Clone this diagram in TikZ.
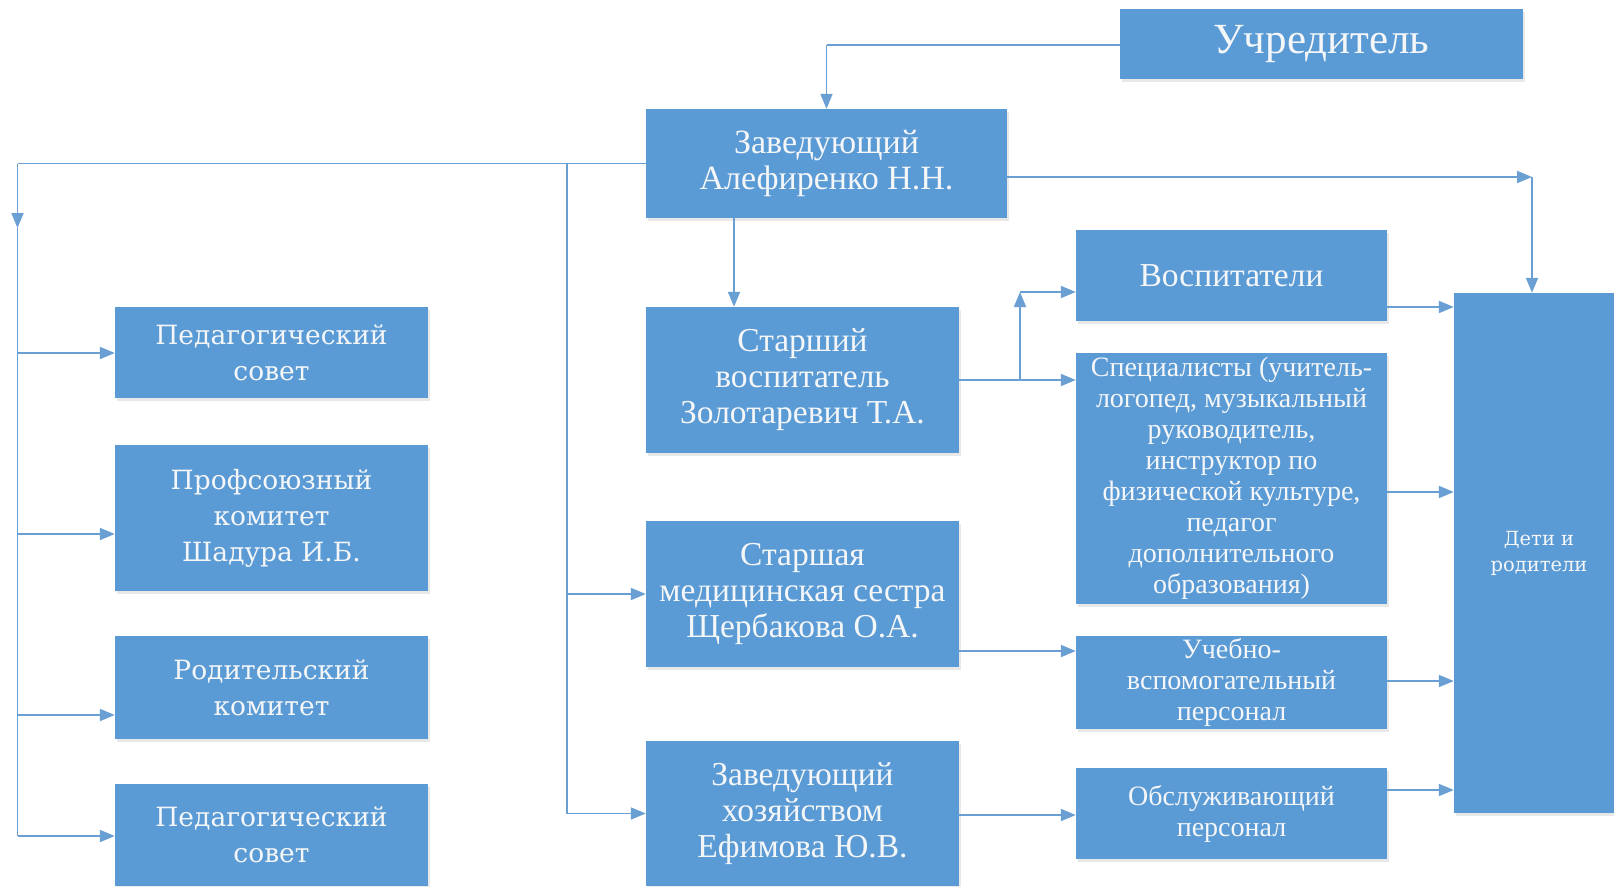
\documentclass[tikz,border=0pt]{standalone}
\usepackage{fontspec}
\setmainfont{DejaVu Serif}
\newfontfamily\condfont{Liberation Serif}
\usetikzlibrary{arrows.meta,shadows}
\definecolor{boxblue}{HTML}{5B9BD5}
\definecolor{lineblue}{HTML}{6A9FD3}
\definecolor{txt}{HTML}{F4F6F8}
\begin{document}
\begin{tikzpicture}[x=1pt,y=-1pt,
  box/.style={fill=boxblue, text=txt, align=center, inner sep=0pt,
    drop shadow={opacity=0.18, shadow xshift=2pt, shadow yshift=-3pt}},
  big/.style={font=\condfont\fontsize{43}{44}\selectfont},
  zavf/.style={font=\condfont\fontsize{34}{36}\selectfont},
  mid/.style={font=\condfont\fontsize{33.5}{36}\selectfont},
  wide/.style={font=\fontsize{26.5}{36}\selectfont},
  small/.style={font=\condfont\fontsize{28}{31}\selectfont},
  tiny/.style={font=\fontsize{19.5}{26}\selectfont},
  ln/.style={draw=lineblue, line width=1.8pt},
  arr/.style={ln, -{Triangle[length=15pt,width=12pt]}}]
\useasboundingbox (0,0) rectangle (1614,886);
\fill[white] (0,0) rectangle (1614,886);

% boxes
\node[box,big, minimum width=403pt, minimum height=70pt] (uch) at (1321.5,44) {Учредитель};
\node[box,zavf, minimum width=361pt, minimum height=109pt] (zav) at (826.5,163.5) {Заведующий\\Алефиренко Н.Н.};
\node[box,wide, minimum width=313pt, minimum height=91pt] (ped1) at (271.5,352.5) {Педагогический\\совет};
\node[box,wide, minimum width=313pt, minimum height=146pt] (prof) at (271.5,518) {Профсоюзный\\комитет\\Шадура И.Б.};
\node[box,wide, minimum width=313pt, minimum height=103pt] (rod) at (271.5,687.5) {Родительский\\комитет};
\node[box,wide, minimum width=313pt, minimum height=102pt] (ped2) at (271.5,835) {Педагогический\\совет};
\node[box,mid, minimum width=313pt, minimum height=146pt] (stv) at (802.5,380) {Старший\\воспитатель\\Золотаревич Т.А.};
\node[box,mid, minimum width=313pt, minimum height=146pt] (med) at (802.5,594) {Старшая\\медицинская сестра\\Щербакова О.А.};
\node[box,mid, minimum width=313pt, minimum height=145pt] (hoz) at (802.5,813.5) {Заведующий\\хозяйством\\Ефимова Ю.В.};
\node[box,mid, minimum width=311pt, minimum height=91pt] (vos) at (1231.5,275.5) {Воспитатели};
\node[box,small, minimum width=311pt, minimum height=251pt] (spec) at (1231.5,478.5) {Специалисты (учитель-\\логопед, музыкальный\\руководитель,\\инструктор по\\физической культуре,\\педагог\\дополнительного\\образования)};
\node[box,small, minimum width=311pt, minimum height=93pt] (ucheb) at (1231.5,682.5) {Учебно-\\вспомогательный\\персонал};
\node[box,small, minimum width=311pt, minimum height=91pt] (obs) at (1231.5,813.5) {Обслуживающий\\персонал};
\node[box,tiny, minimum width=170pt, minimum height=520pt] (deti) at (1539,553) {Дети и\\родители};

% coordinates
\coordinate (uchturn) at (826.5,45);
\coordinate (lt) at (17.5,163.5);
\coordinate (ldown) at (17.5,228);
\coordinate (lbot) at (17.5,836);
\coordinate (mt) at (567,163.5);
\coordinate (rturn) at (1532,177);
\coordinate (sj) at (1020,380);
\coordinate (sup) at (1020,292);
\coordinate (zs) at (734,218);

% Учредитель -> Заведующий
\draw[ln] (uch.west |- uchturn) -- (uchturn);
\draw[arr] (uchturn) -- (zav.north);

% left trunk
\draw[ln] (zav.west) -- (lt);
\draw[arr] (lt) -- (ldown);
\draw[ln] (ldown) -- (lbot);
\draw[arr] (17.5,353) -- (ped1.west |- 0,353);
\draw[arr] (17.5,534) -- (prof.west |- 0,534);
\draw[arr] (17.5,715) -- (rod.west |- 0,715);
\draw[arr] (lbot) -- (ped2.west |- lbot);

% middle trunk
\draw[ln] (mt) -- (mt |- hoz.west);
\draw[arr] (mt |- med.west) -- (med.west);
\draw[arr] (mt |- hoz.west) -- (hoz.west);

% Заведующий -> right
\draw[arr] (zav.east |- rturn) -- (rturn);
\draw[arr] (rturn) -- (rturn |- deti.north);

% Заведующий -> Старший воспитатель
\draw[arr] (zs) -- (zs |- stv.north);

% Старший воспитатель -> Специалисты / Воспитатели
\draw[arr] (stv.east) -- (spec.west |- stv.east);
\draw[arr] (sj) -- (sup);
\draw[arr] (sup) -- (vos.west |- sup);

% to Дети и родители
\draw[arr] (vos.east |- 0,307) -- (deti.west |- 0,307);
\draw[arr] (spec.east |- 0,492) -- (deti.west |- 0,492);
\draw[arr] (ucheb.east |- 0,681) -- (deti.west |- 0,681);
\draw[arr] (obs.east |- 0,790) -- (deti.west |- 0,790);

% right column inputs
\draw[arr] (med.east |- 0,651) -- (ucheb.west |- 0,651);
\draw[arr] (hoz.east |- 0,815) -- (obs.west |- 0,815);
\end{tikzpicture}
\end{document}
